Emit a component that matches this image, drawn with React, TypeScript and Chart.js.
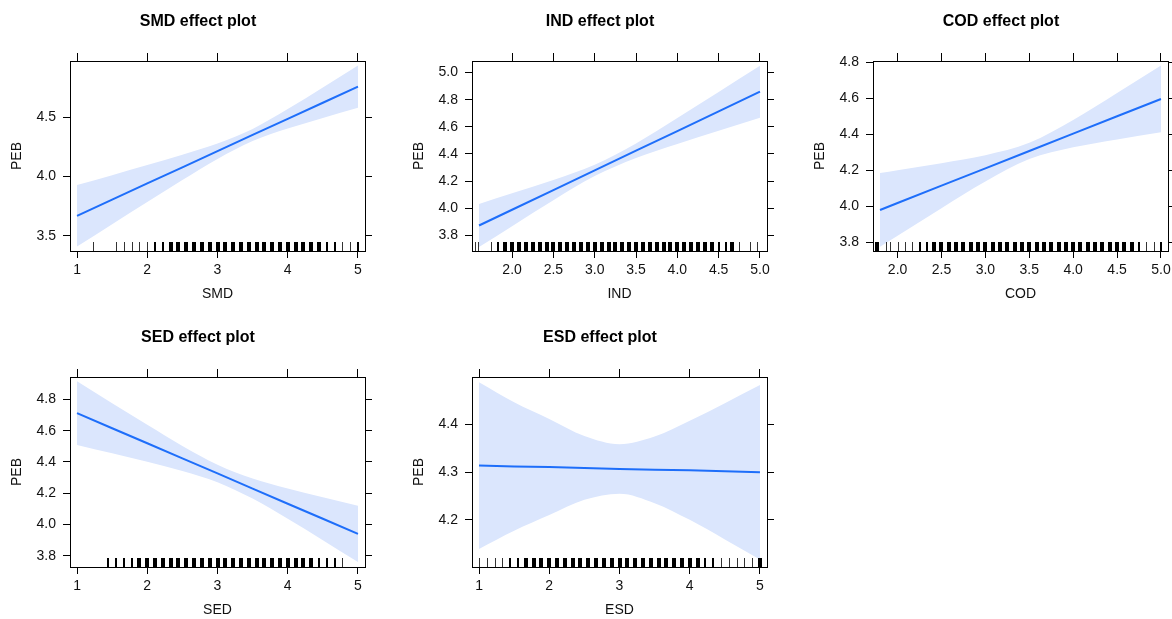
import React, { useEffect, useRef } from "react";
import { Chart, registerables } from "chart.js";

Chart.register(...registerables);

const FONT = '"Liberation Sans", Arial, Helvetica, sans-serif';
const LINE_COLOR = "rgb(30,110,250)";
const BAND_COLOR = "rgb(219,230,253)";

// ---------- SMD ----------
const smdX = [1, 1.5, 2, 2.5, 3, 3.5, 4, 4.5, 5];
const smdFit = [3.668, 3.804, 3.941, 4.077, 4.213, 4.35, 4.486, 4.622, 4.758];
const smdUpper = [3.927, 4.011, 4.097, 4.184, 4.278, 4.401, 4.568, 4.75, 4.936];
const smdLower = [3.409, 3.597, 3.785, 3.97, 4.148, 4.299, 4.404, 4.494, 4.58];
const smdXTicks = [1, 2, 3, 4, 5];
const smdXLabels = ["1", "2", "3", "4", "5"];
const smdYTicks = [3.5, 4.0, 4.5];
const smdYLabels = ["3.5", "4.0", "4.5"];
const smdRug = [1.222, 1.556, 1.667, 1.778, 1.889, 2.0, 2.111, 2.222, 2.333, 2.444, 2.556, 2.667, 2.778, 2.889, 3.0, 3.111, 3.222, 3.333, 3.444, 3.556, 3.667, 3.778, 3.889, 4.0, 4.111, 4.222, 4.333, 4.444, 4.556, 4.667, 4.778, 4.889, 5.0];
const smdRugN = [1, 1, 1, 1, 1, 1, 2, 2, 3, 3, 3, 3, 3, 3, 3, 3, 3, 3, 3, 3, 3, 3, 3, 3, 3, 3, 3, 3, 2, 2, 1, 1, 2];

// ---------- IND ----------
const indX = [1.6, 2.0, 2.5, 3.0, 3.5, 4.0, 4.5, 5.0];
const indFit = [3.873, 3.989, 4.134, 4.279, 4.424, 4.569, 4.714, 4.859];
const indUpper = [4.032, 4.11, 4.209, 4.321, 4.478, 4.665, 4.857, 5.05];
const indLower = [3.714, 3.868, 4.059, 4.237, 4.37, 4.473, 4.571, 4.667];
const indXTicks = [2.0, 2.5, 3.0, 3.5, 4.0, 4.5, 5.0];
const indXLabels = ["2.0", "2.5", "3.0", "3.5", "4.0", "4.5", "5.0"];
const indYTicks = [3.8, 4.0, 4.2, 4.4, 4.6, 4.8, 5.0];
const indYLabels = ["3.8", "4.0", "4.2", "4.4", "4.6", "4.8", "5.0"];
const indRug = [1.55, 1.583, 1.75, 1.833, 1.917, 2.0, 2.083, 2.167, 2.25, 2.333, 2.417, 2.5, 2.583, 2.667, 2.75, 2.833, 2.917, 3.0, 3.083, 3.167, 3.25, 3.333, 3.417, 3.5, 3.583, 3.667, 3.75, 3.833, 3.917, 4.0, 4.083, 4.167, 4.25, 4.333, 4.417, 4.5, 4.583, 4.667, 4.75, 4.88, 4.97];
const indRugN = [1, 1, 1, 2, 3, 3, 3, 3, 3, 3, 3, 3, 3, 3, 3, 3, 3, 3, 3, 3, 3, 3, 3, 3, 3, 3, 3, 3, 3, 3, 3, 3, 3, 3, 3, 2, 2, 3, 1, 1, 1];

// ---------- COD ----------
const codX = [1.8, 2.0, 2.5, 3.0, 3.5, 4.0, 4.5, 5.0];
const codFit = [3.981, 4.02, 4.116, 4.212, 4.309, 4.405, 4.502, 4.598];
const codUpper = [4.186, 4.202, 4.241, 4.285, 4.354, 4.481, 4.631, 4.784];
const codLower = [3.776, 3.838, 3.991, 4.139, 4.264, 4.329, 4.373, 4.413];
const codXTicks = [2.0, 2.5, 3.0, 3.5, 4.0, 4.5, 5.0];
const codXLabels = ["2.0", "2.5", "3.0", "3.5", "4.0", "4.5", "5.0"];
const codYTicks = [3.8, 4.0, 4.2, 4.4, 4.6, 4.8];
const codYLabels = ["3.8", "4.0", "4.2", "4.4", "4.6", "4.8"];
const codRug = [1.77, 1.866, 1.917, 2.0, 2.083, 2.167, 2.25, 2.333, 2.417, 2.5, 2.583, 2.667, 2.75, 2.833, 2.917, 3.0, 3.083, 3.167, 3.25, 3.333, 3.417, 3.5, 3.583, 3.667, 3.75, 3.833, 3.917, 4.0, 4.083, 4.167, 4.25, 4.333, 4.417, 4.5, 4.583, 4.667, 4.75, 4.833, 4.917, 5.0];
const codRugN = [3, 1, 1, 1, 1, 1, 2, 2, 3, 3, 3, 3, 3, 3, 3, 3, 3, 3, 3, 3, 3, 3, 3, 3, 3, 3, 3, 3, 3, 3, 3, 3, 3, 3, 3, 3, 2, 1, 1, 2];

// ---------- SED ----------
const sedX = [1, 1.5, 2, 2.5, 3, 3.5, 4, 4.5, 5];
const sedFit = [4.713, 4.616, 4.52, 4.423, 4.327, 4.23, 4.133, 4.037, 3.94];
const sedUpper = [4.917, 4.776, 4.638, 4.503, 4.383, 4.294, 4.23, 4.174, 4.12];
const sedLower = [4.509, 4.456, 4.402, 4.343, 4.271, 4.166, 4.037, 3.9, 3.76];
const sedXTicks = [1, 2, 3, 4, 5];
const sedXLabels = ["1", "2", "3", "4", "5"];
const sedYTicks = [3.8, 4.0, 4.2, 4.4, 4.6, 4.8];
const sedYLabels = ["3.8", "4.0", "4.2", "4.4", "4.6", "4.8"];
const sedRug = [1.444, 1.556, 1.667, 1.778, 1.889, 2.0, 2.111, 2.222, 2.333, 2.444, 2.556, 2.667, 2.778, 2.889, 3.0, 3.111, 3.222, 3.333, 3.444, 3.556, 3.667, 3.778, 3.889, 4.0, 4.111, 4.222, 4.333, 4.444, 4.556, 4.667, 4.778];
const sedRugN = [2, 2, 2, 2, 3, 3, 3, 3, 3, 3, 3, 3, 3, 3, 3, 3, 3, 3, 3, 3, 3, 3, 3, 3, 3, 3, 3, 2, 2, 2, 1];

// ---------- ESD ----------
const esdX = [1, 1.5, 2, 2.5, 3, 3.5, 4, 4.5, 5];
const esdFit = [4.314, 4.312, 4.311, 4.309, 4.307, 4.305, 4.304, 4.302, 4.3];
const esdUpper = [4.489, 4.447, 4.412, 4.376, 4.359, 4.375, 4.408, 4.445, 4.483];
const esdLower = [4.139, 4.177, 4.21, 4.242, 4.255, 4.235, 4.2, 4.159, 4.117];
const esdXTicks = [1, 2, 3, 4, 5];
const esdXLabels = ["1", "2", "3", "4", "5"];
const esdYTicks = [4.2, 4.3, 4.4];
const esdYLabels = ["4.2", "4.3", "4.4"];
const esdRug = [1.0, 1.111, 1.222, 1.333, 1.444, 1.556, 1.667, 1.778, 1.889, 2.0, 2.111, 2.222, 2.333, 2.444, 2.556, 2.667, 2.778, 2.889, 3.0, 3.111, 3.222, 3.333, 3.444, 3.556, 3.667, 3.778, 3.889, 4.0, 4.111, 4.222, 4.333, 4.444, 4.556, 4.667, 4.778, 4.889, 5.0];
const esdRugN = [1, 1, 1, 1, 2, 2, 3, 3, 3, 3, 3, 3, 3, 3, 3, 3, 3, 3, 3, 3, 3, 3, 3, 3, 3, 3, 3, 3, 3, 2, 2, 1, 1, 1, 1, 1, 3];

type PanelDef = {
  name: string;
  left: number;
  top: number;
  x: number[];
  fit: number[];
  upper: number[];
  lower: number[];
  xMin: number;
  xMax: number;
  yMin: number;
  yMax: number;
  xTicks: number[];
  xLabels: string[];
  yTicks: number[];
  yLabels: string[];
  rug: number[];
  rugN: number[];
};

const panels: PanelDef[] = [
  { name: "SMD", left: 70, top: 61, x: smdX, fit: smdFit, upper: smdUpper, lower: smdLower, xMin: 0.9, xMax: 5.1, yMin: 3.371, yMax: 4.974, xTicks: smdXTicks, xLabels: smdXLabels, yTicks: smdYTicks, yLabels: smdYLabels, rug: smdRug, rugN: smdRugN },
  { name: "IND", left: 472, top: 61, x: indX, fit: indFit, upper: indUpper, lower: indLower, xMin: 1.515, xMax: 5.085, yMin: 3.685, yMax: 5.085, xTicks: indXTicks, xLabels: indXLabels, yTicks: indYTicks, yLabels: indYLabels, rug: indRug, rugN: indRugN },
  { name: "COD", left: 873, top: 61, x: codX, fit: codFit, upper: codUpper, lower: codLower, xMin: 1.72, xMax: 5.08, yMin: 3.753, yMax: 4.809, xTicks: codXTicks, xLabels: codXLabels, yTicks: codYTicks, yLabels: codYLabels, rug: codRug, rugN: codRugN },
  { name: "SED", left: 70, top: 377, x: sedX, fit: sedFit, upper: sedUpper, lower: sedLower, xMin: 0.9, xMax: 5.1, yMin: 3.728, yMax: 4.944, xTicks: sedXTicks, xLabels: sedXLabels, yTicks: sedYTicks, yLabels: sedYLabels, rug: sedRug, rugN: sedRugN },
  { name: "ESD", left: 472, top: 377, x: esdX, fit: esdFit, upper: esdUpper, lower: esdLower, xMin: 0.9, xMax: 5.1, yMin: 4.101, yMax: 4.5, xTicks: esdXTicks, xLabels: esdXLabels, yTicks: esdYTicks, yLabels: esdYLabels, rug: esdRug, rugN: esdRugN },
];

const CANVAS_W = 396;
const CANVAS_H = 311;
const Y_AXIS_W = 70;
const X_AXIS_H = 60;
const TOP_AXIS_H = 8;
const RIGHT_AXIS_W = 31;

function PanelChart({ p }: { p: PanelDef }) {
  const ref = useRef<HTMLCanvasElement>(null);

  useEffect(() => {
    const canvas = ref.current;
    if (!canvas) return;

    const fixTicks = (vals: number[]) => (scale: any) => {
      scale.ticks = vals.map((v) => ({ value: v }));
    };

    const rugPlugin = {
      id: "rug",
      afterDatasetsDraw(chart: any) {
        const { ctx, chartArea, scales } = chart;
        ctx.save();
        p.rug.forEach((v, i) => {
          const n = p.rugN[i];
          const px = Math.round(scales.x.getPixelForValue(v));
          const w = n >= 3 ? 4 : n === 2 ? 2 : 1;
          ctx.fillStyle = n === 1 ? "#333" : "#000";
          ctx.fillRect(px - Math.floor(w / 2), chartArea.bottom - 9, w, 9);
        });
        ctx.restore();
      },
    };

    const tickFont = { family: FONT, size: 14 };
    const gridCommon = {
      display: true,
      drawOnChartArea: false,
      drawTicks: true,
      tickLength: 7,
      color: "#000",
      lineWidth: 1,
    };
    const borderCommon = { display: true, color: "#000", width: 1 };

    const chart = new Chart(canvas, {
      type: "line",
      data: {
        datasets: [
          {
            data: p.x.map((x, i) => ({ x, y: p.fit[i] })),
            borderColor: LINE_COLOR,
            borderWidth: 2,
            pointRadius: 0,
            fill: false,
          },
          {
            data: p.x.map((x, i) => ({ x, y: p.upper[i] })),
            borderColor: "rgba(0,0,0,0)",
            borderWidth: 0,
            pointRadius: 0,
            backgroundColor: BAND_COLOR,
            fill: "+1",
            cubicInterpolationMode: "monotone",
          },
          {
            data: p.x.map((x, i) => ({ x, y: p.lower[i] })),
            borderColor: "rgba(0,0,0,0)",
            borderWidth: 0,
            pointRadius: 0,
            fill: false,
            cubicInterpolationMode: "monotone",
          },
        ],
      } as any,
      options: {
        responsive: false,
        animation: false,
        devicePixelRatio: 1,
        layout: { padding: 0 },
        plugins: {
          legend: { display: false },
          tooltip: { enabled: false },
          title: {
            display: true,
            text: `${p.name} effect plot`,
            color: "#000",
            font: { family: FONT, size: 16, weight: "bold", lineHeight: 1 },
            padding: { top: 14, bottom: 23 },
          },
        },
        scales: {
          x: {
            type: "linear",
            position: "bottom",
            min: p.xMin,
            max: p.xMax,
            bounds: "data",
            afterBuildTicks: fixTicks(p.xTicks),
            afterFit: (s: any) => {
              s.height = X_AXIS_H;
            },
            ticks: {
              callback: (_v: any, i: number) => p.xLabels[i],
              font: tickFont,
              color: "#111",
              padding: 4,
              autoSkip: false,
              maxRotation: 0,
            },
            grid: gridCommon,
            border: borderCommon,
            title: {
              display: true,
              text: p.name,
              color: "#111",
              font: { family: FONT, size: 14 },
              padding: { top: 0, bottom: 8 },
            },
          },
          x2: {
            type: "linear",
            position: "top",
            min: p.xMin,
            max: p.xMax,
            bounds: "data",
            afterBuildTicks: fixTicks(p.xTicks),
            afterFit: (s: any) => {
              s.height = TOP_AXIS_H;
            },
            ticks: { display: false },
            grid: { ...gridCommon, tickLength: 8 },
            border: borderCommon,
          },
          y: {
            type: "linear",
            position: "left",
            min: p.yMin,
            max: p.yMax,
            bounds: "data",
            afterBuildTicks: fixTicks(p.yTicks),
            afterFit: (s: any) => {
              s.width = Y_AXIS_W;
            },
            ticks: {
              callback: (_v: any, i: number) => p.yLabels[i],
              font: tickFont,
              color: "#111",
              padding: 7,
              autoSkip: false,
            },
            grid: gridCommon,
            border: borderCommon,
            title: {
              display: true,
              text: "PEB",
              color: "#111",
              font: { family: FONT, size: 14 },
              padding: { top: 9, bottom: 0 },
            },
          },
          y2: {
            type: "linear",
            position: "right",
            min: p.yMin,
            max: p.yMax,
            bounds: "data",
            afterBuildTicks: fixTicks(p.yTicks),
            afterFit: (s: any) => {
              s.width = RIGHT_AXIS_W;
            },
            ticks: { display: false },
            grid: gridCommon,
            border: borderCommon,
          },
        },
      } as any,
      plugins: [rugPlugin],
    });

    return () => chart.destroy();
  }, [p]);

  return (
    <canvas
      ref={ref}
      width={CANVAS_W}
      height={CANVAS_H}
      style={{
        position: "absolute",
        left: p.left - Y_AXIS_W,
        top: p.top - 61,
        width: CANVAS_W,
        height: CANVAS_H,
      }}
    />
  );
}

export default function App() {
  return (
    <div
      style={{
        position: "fixed",
        left: 0,
        top: 0,
        width: 1172,
        height: 619,
        overflow: "hidden",
        background: "#fff",
      }}
    >
      {panels.map((p) => (
        <PanelChart key={p.name} p={p} />
      ))}
    </div>
  );
}
